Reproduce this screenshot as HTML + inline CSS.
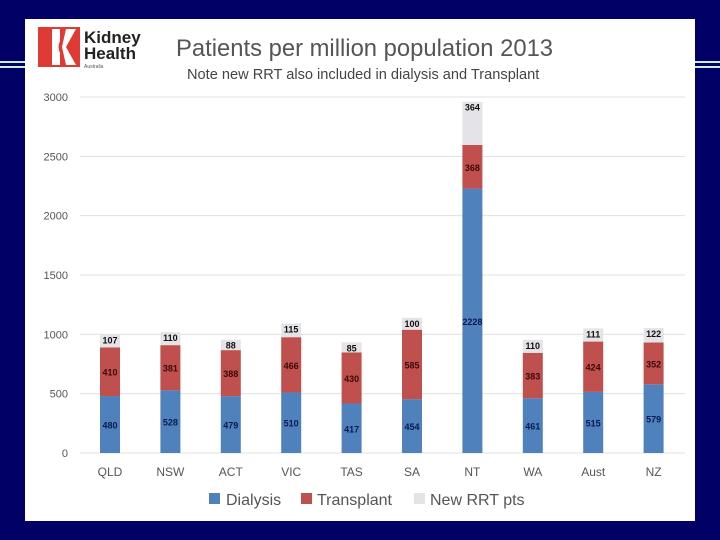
<!DOCTYPE html>
<html><head><meta charset="utf-8"><style>
body{margin:0;width:720px;height:540px;background:#000066;position:relative;overflow:hidden;font-family:"Liberation Sans",sans-serif}
.line{position:absolute;height:2px;background:#c8f0d8}
#panel{position:absolute;left:25px;top:19px;width:670px;height:502px;background:#fff}
</style></head><body>
<div class="line" style="left:0;top:61px;width:25px"></div>
<div class="line" style="left:0;top:66px;width:25px"></div>
<div class="line" style="left:695px;top:61px;width:25px"></div>
<div class="line" style="left:695px;top:66px;width:25px"></div>
<div id="panel"></div>
<svg id="chart" width="720" height="540" style="position:absolute;left:0;top:0">
<g>
<rect x="38" y="27" width="42" height="40" fill="#e03a35"/>
<path d="M52 29 L60 29 L60 41 Q57 47 60 53 L60 65 L52 65 Z" fill="#fff"/>
<path d="M66 29 L76 29 L66 47 L76 65 L66 65 L62 47 Z" fill="#fff"/>
<text x="84" y="43" font-size="17" font-weight="bold" fill="#222">Kidney</text>
<text x="84" y="59" font-size="17" font-weight="bold" fill="#222">Health</text>
<text x="84" y="68" font-size="5" fill="#555">Australia</text>
</g>
<text x="176" y="56" font-size="23.8" fill="#555">Patients per million population 2013</text>
<text x="187" y="79" font-size="14.6" fill="#444">Note new RRT also included in dialysis and Transplant</text>
<g id="grid"></g><g id="bars"></g>
<g font-size="16" fill="#555">
<rect x="209" y="493" width="11" height="11" fill="#4f81bd"/><text x="226" y="505">Dialysis</text>
<rect x="301" y="493" width="11" height="11" fill="#c0504d"/><text x="317" y="505">Transplant</text>
<rect x="414" y="493" width="11" height="11" fill="#e4e4e8"/><text x="430" y="505">New RRT pts</text>
</g>
</svg>
<script>
const categories=["QLD","NSW","ACT","VIC","TAS","SA","NT","WA","Aust","NZ"];
const dialysis=[480,528,479,510,417,454,2228,461,515,579];
const transplant=[410,381,388,466,430,585,368,383,424,352];
const newRRT=[107,110,88,115,85,100,364,110,111,122];
const yTicks=[0,500,1000,1500,2000,2500,3000];
const NS="http://www.w3.org/2000/svg";
const y=v=>453-v*356/3000;
const x=i=>110+i*60.4;
function mk(t,a,p){const e=document.createElementNS(NS,t);for(const k in a)e.setAttribute(k,a[k]);p.appendChild(e);return e;}
const grid=document.getElementById('grid'),bars=document.getElementById('bars');
yTicks.forEach(t=>{
const l=mk('line',{x1:80,x2:685,y1:y(t),y2:y(t),stroke:'#e0e0e0'},grid);


const tx=mk('text',{x:68,y:y(t)+4,'text-anchor':'end','font-size':11,fill:'#555'},grid);tx.textContent=t;


});
categories.forEach((c,i)=>{
const cx=x(i),w=20;
const segs=[[dialysis[i],'#4f81bd','#0a1a50'],[transplant[i],'#c0504d','#3a0808'],[newRRT[i],'#e4e4e8','#111']];
let base=0;
segs.forEach((s,j)=>{
const r=mk('rect',{x:cx-w/2,y:y(base+s[0]),width:w,height:y(base)-y(base+s[0]),fill:s[1]},bars);


const ly=j==2?y(base+s[0])+9:(y(base)+y(base+s[0]))/2+4;
const t=mk('text',{x:cx,y:ly,'text-anchor':'middle','font-size':9,'font-weight':'bold',fill:s[2]},bars);t.textContent=s[0];


base+=s[0];
});
const t=mk('text',{x:cx,y:476,'text-anchor':'middle','font-size':12,fill:'#555'},bars);t.textContent=c;


});
</script>
</body></html>
